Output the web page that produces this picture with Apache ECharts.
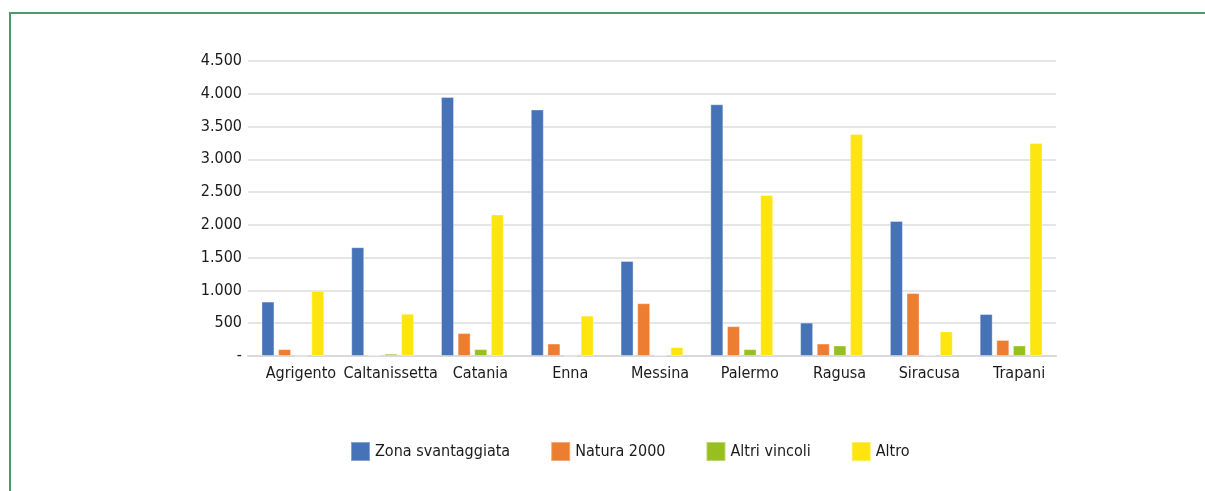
<!DOCTYPE html>
<html>
<head>
<meta charset="utf-8">
<script src="https://cdn.jsdelivr.net/npm/echarts@6/dist/echarts.min.js"></script>
<style>
  html, body { margin: 0; padding: 0; background: #fff; }
  #wrap { position: relative; width: 1205px; height: 491px; overflow: hidden; }
  #frame { position: absolute; left: 9px; top: 12px; width: 1300px; height: 600px;
           border-top: 2px solid #4a9b6c; border-left: 2px solid #4a9b6c; }
  #chart { position: absolute; left: 0; top: 0; width: 1205px; height: 491px; }
</style>
</head>
<body>
<div id="wrap">
  <div id="frame"></div>
  <div id="chart"></div>
</div>
<script>
// province
var province = ['Agrigento', 'Caltanissetta', 'Catania', 'Enna', 'Messina', 'Palermo', 'Ragusa', 'Siracusa', 'Trapani'];

// valori
var zonaSvantaggiata = [830, 1660, 3950, 3760, 1450, 3840, 510, 2060, 640];
var natura2000 = [105, 15, 350, 190, 805, 455, 190, 960, 245];
var altriVincoli = [0, 35, 105, 0, 15, 105, 160, 15, 160];
var altro = [995, 645, 2160, 615, 135, 2455, 3385, 375, 3250];

var serie = ['Zona svantaggiata', 'Natura 2000', 'Altri vincoli', 'Altro'];
var colori = ['#4672b8', '#ed7d31', '#97c01e', '#ffe50f'];

var font = '"Liberation Sans Narrow", "DejaVu Sans Condensed", "Roboto Condensed", sans-serif';

function fmt(v) {
    if (v === 0) return '-';
    return String(v).replace(/\B(?=(\d{3})+(?!\d))/g, '.');
}

var myChart = echarts.init(document.getElementById('chart'));

var dati = [zonaSvantaggiata, natura2000, altriVincoli, altro];
var series = serie.map(function (nome, i) {
    return {
        name: nome,
        type: 'bar',
        data: dati[i],
        barGap: '28%',
        barCategoryGap: '30%',
        itemStyle: { color: colori[i], borderColor: 'rgba(255,255,255,0.35)', borderWidth: 1 }
    };
});

myChart.setOption({
    animation: false,
    textStyle: { fontFamily: font },
    color: colori,
    grid: { left: 248, right: 149, top: 61, bottom: 135 },
    xAxis: {
        type: 'category',
        data: province,
        axisLine: { lineStyle: { color: '#d9d9d9', width: 2 } },
        axisTick: { show: false },
        axisLabel: { interval: 0, color: '#1a1a1a', fontSize: 16, margin: 10, padding: [0, 0, 0, 16], fontFamily: font }
    },
    yAxis: {
        type: 'value',
        min: 0,
        max: 4500,
        interval: 500,
        axisLine: { show: false },
        axisTick: { show: false },
        splitLine: { lineStyle: { color: '#dcdcdc', width: 1.5 } },
        axisLabel: { color: '#1a1a1a', fontSize: 16, margin: 6, formatter: fmt, fontFamily: font }
    },
    legend: {
        left: 350,
        top: 441,
        padding: 0,
        itemWidth: 19,
        itemHeight: 19,
        itemGap: 40,
        icon: 'rect',
        textStyle: { color: '#1a1a1a', fontSize: 16, fontFamily: font },
        data: serie
    },
    series: series
});
</script>
</body>
</html>
